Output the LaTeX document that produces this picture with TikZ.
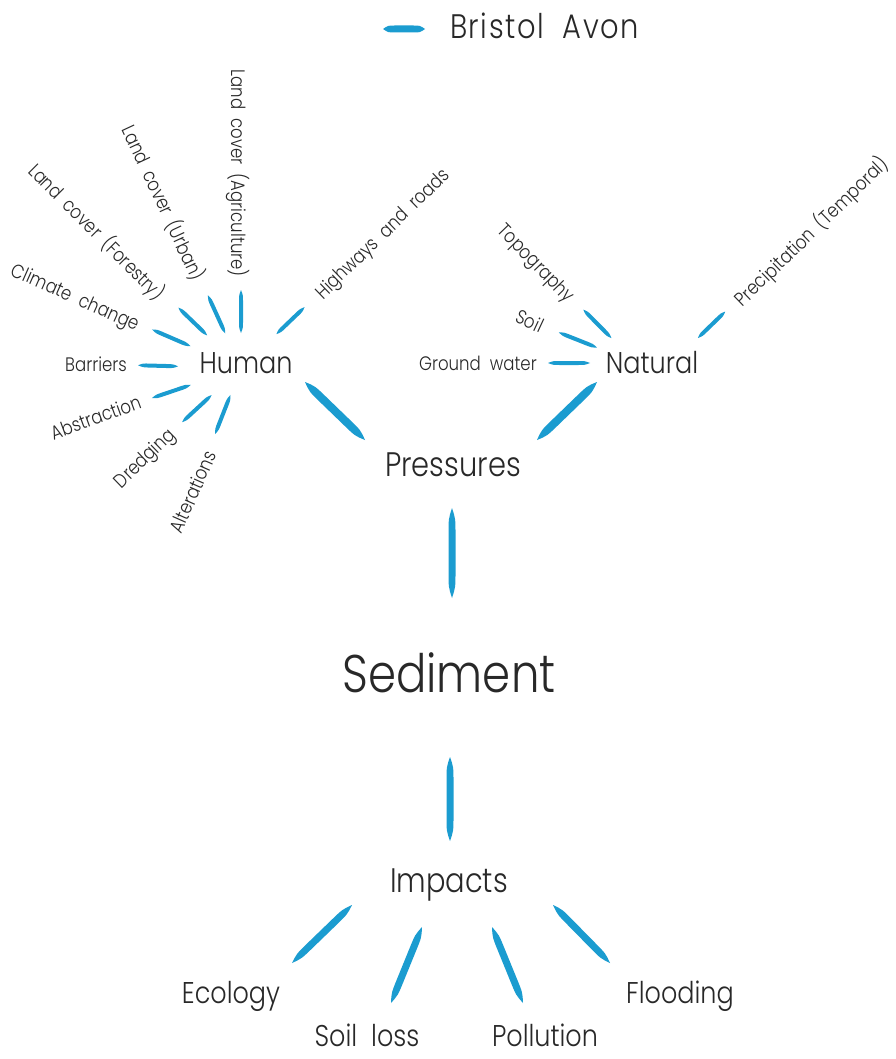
\documentclass[tikz,border=0pt]{standalone}
\usepackage{fontspec}
\setmainfont{Poppins}[UprightFont=* Light, FakeStretch=0.85, WordSpace=2]
\usetikzlibrary{calc}

\definecolor{avon}{RGB}{27,156,208}
\definecolor{ink}{RGB}{40,40,40}

% tapered (spindle-shaped) connector: #1 half width, #2 start, #3 end
\newcommand\avonline[3]{%
  \path #2 coordinate (spA) #3 coordinate (spB);
  \fill[avon]
    (spA) .. controls ($(spA)!.12!(spB)!#1!90:(spB)$) .. ($(spA)!.3!(spB)!#1!90:(spB)$)
    -- ($(spA)!.7!(spB)!#1!90:(spB)$)
    .. controls ($(spA)!.88!(spB)!#1!90:(spB)$) .. (spB)
    .. controls ($(spA)!.88!(spB)!#1!-90:(spB)$) .. ($(spA)!.7!(spB)!#1!-90:(spB)$)
    -- ($(spA)!.3!(spB)!#1!-90:(spB)$)
    .. controls ($(spA)!.12!(spB)!#1!-90:(spB)$) .. (spA) -- cycle;
}

\tikzset{
  every node/.style={text=ink, text depth=0pt, inner sep=3pt},
  lab/.style={font=\fontsize{19.5}{21}\selectfont},
  hubtext/.style={font=\fontsize{30}{32}\selectfont},
  midtext/.style={font=\fontsize{34}{36}\selectfont},
  legendtext/.style={font=\fontsize{34}{36}\selectfont\addfontfeatures{LetterSpace=4.5}},
  title/.style={font=\fontsize{53}{56}\selectfont},
}

\begin{document}
\begin{tikzpicture}[x=1pt,y=1pt]
\useasboundingbox (0,0) rectangle (895,-1059);

% legend
\node[legendtext, anchor=west] (legend) at (447,-26) {Bristol Avon};
\avonline{3.5pt}{($(legend.west)+(-64,-3)$)}{($(legend.west)+(-22,-3)$)}

% main chain
\node[hubtext] (human) at (246,-363) {Human};
\node[hubtext] (natural) at (652,-362) {Natural};
\node[midtext] (pressures) at (453,-465) {Pressures};
\node[title] (sediment) at (449,-673) {Sediment};
\node[midtext] (impacts) at (449,-881) {Impacts};
\node[hubtext] (ecology) at (231,-992) {Ecology};
\node[hubtext] (soilloss) at (367,-1035) {Soil loss};
\node[hubtext] (pollution) at (545,-1035) {Pollution};
\node[hubtext] (flooding) at (680,-992) {Flooding};

% human pressures
\coordinate (hh) at ($(human)+(-5,-5)$);
\node[lab, rotate=-90, anchor=east] (agri)   at ($(hh)+(90:88)$)   {Land cover (Agriculture)};
\node[lab, rotate=-65, anchor=east] (urban)  at ($(hh)+(114:95)$)  {Land cover (Urban)};
\node[lab, rotate=-45, anchor=east] (forest) at ($(hh)+(137:104)$) {Land cover (Forestry)};
\node[lab, rotate=-24, anchor=east] (climate) at ($(hh)+(157:108)$) {Climate change};
\node[lab, anchor=east] (barriers) at ($(hh)+(178:111)$) {Barriers};
\node[lab, rotate=20, anchor=east] (abstr) at ($(hh)+(198:103)$) {Abstraction};
\node[lab, rotate=44, anchor=east] (dredg) at ($(hh)+(222:91)$) {Dredging};
\node[lab, rotate=66, anchor=east] (alter) at ($(hh)+(250:86)$) {Alterations};
\node[lab, rotate=44, anchor=west] (roads) at ($(hh)+(43.5:103)$) {Highways and roads};

\avonline{2pt}{($(hh)!35pt!(agri)$)}{($(hh)!78pt!(agri)$)}
\avonline{2pt}{($(hh)!38pt!(urban)$)}{($(hh)!80pt!(urban)$)}
\avonline{2pt}{($(hh)!47pt!(forest)$)}{($(hh)!87pt!(forest)$)}
\avonline{2pt}{($(hh)!55pt!(climate)$)}{($(hh)!97pt!(climate)$)}
\avonline{2pt}{($(hh)!63pt!(barriers)$)}{($(hh)!103pt!(barriers)$)}
\avonline{2pt}{($(hh)!53pt!(abstr)$)}{($(hh)!94pt!(abstr)$)}
\avonline{2pt}{($(hh)!40pt!(dredg)$)}{($(hh)!80pt!(dredg)$)}
\avonline{2pt}{($(hh)!29pt!(alter)$)}{($(hh)!71pt!(alter)$)}
\avonline{2pt}{($(hh)!49pt!(roads)$)}{($(hh)!88pt!(roads)$)}

% natural pressures
\coordinate (nl) at ($(natural)+(-16,-1)$);
\coordinate (nr) at ($(natural)+(20,-1)$);
\node[lab, rotate=-46, anchor=east] (topo) at ($(nl)+(135:88)$) {Topography};
\node[lab, rotate=-25, anchor=east] (soil) at ($(nl)+(159:97)$) {Soil};
\node[lab, anchor=east] (ground) at ($(nl)+(180:96)$) {Ground water};
\node[lab, rotate=44, anchor=west] (precip) at ($(nr)+(44:86)$) {Precipitation (Temporal)};

\avonline{2pt}{($(nl)!35pt!(topo)$)}{($(nl)!75pt!(topo)$)}
\avonline{2pt}{($(nl)!42pt!(soil)$)}{($(nl)!83pt!(soil)$)}
\avonline{2pt}{($(nl)!46pt!(ground)$)}{($(nl)!88pt!(ground)$)}
\avonline{2pt}{($(nr)!36pt!(precip)$)}{($(nr)!74pt!(precip)$)}

% trunk
\avonline{4pt}{($(human)+(59,-19)$)}{($(pressures)+(-88,25)$)}
\avonline{4pt}{($(natural)+(-55,-20)$)}{($(pressures)+(84,25)$)}
\avonline{3.5pt}{($(pressures)+(-1,-43)$)}{($(sediment)+(3,75)$)}
\avonline{3.5pt}{($(sediment)+(1,-84)$)}{($(impacts)+(1,40)$)}

% impacts
\avonline{3.5pt}{($(impacts)+(-97,-24)$)}{($(ecology)+(61,29)$)}
\avonline{3.5pt}{($(impacts)+(-27,-46)$)}{($(soilloss)+(24,32)$)}
\avonline{3.5pt}{($(impacts)+(43,-46)$)}{($(pollution)+(-22,32)$)}
\avonline{3.5pt}{($(impacts)+(104,-24)$)}{($(flooding)+(-70,29)$)}
\end{tikzpicture}
\end{document}
